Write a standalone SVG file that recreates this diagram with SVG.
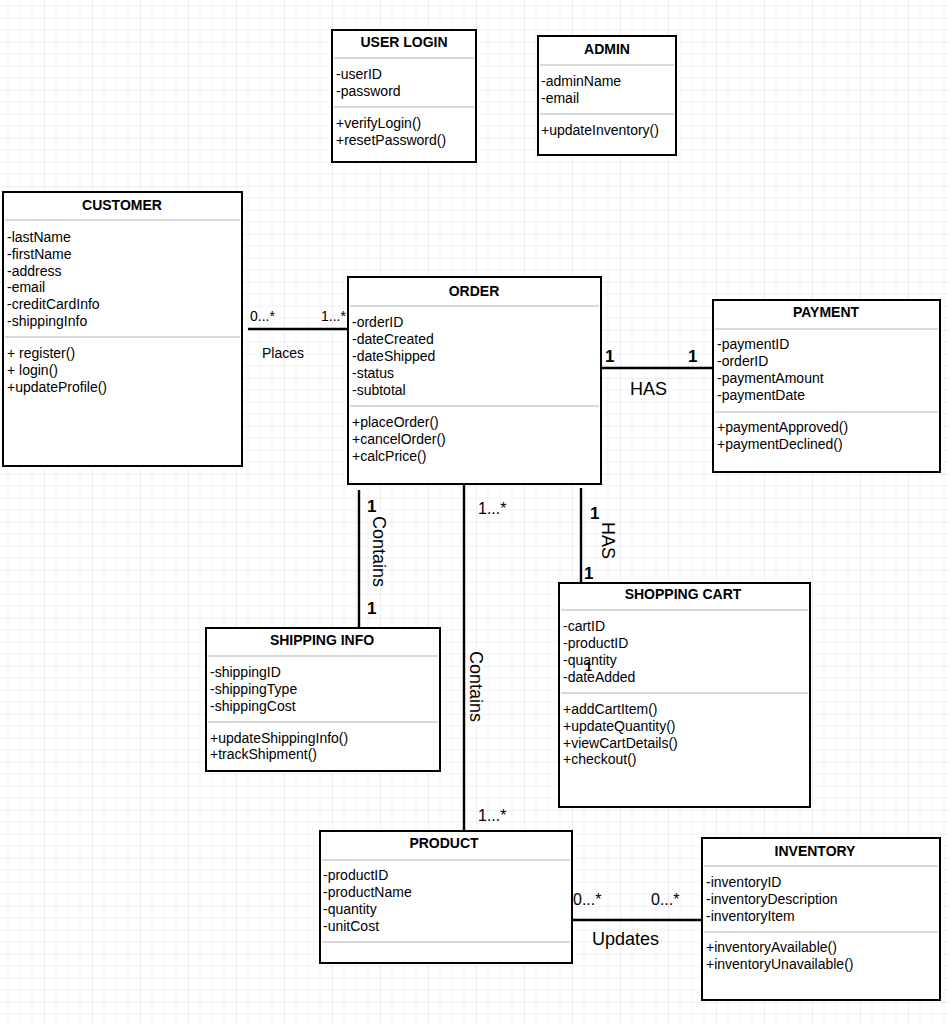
<svg xmlns="http://www.w3.org/2000/svg" width="950" height="1024" viewBox="0 0 950 1024">
<style>
text{font-family:"Liberation Sans",Arial,sans-serif;fill:#000}
.t{font-size:14px;font-weight:bold;text-anchor:middle}
.a{font-size:14px}
.box{fill:#fff;stroke:#000;stroke-width:2}
.sep{stroke:#b3b3b3;stroke-width:1.2}
.c{stroke:#000;stroke-width:2.4;fill:none}
.m{font-size:14px}
.m2{font-size:16px}
.b{font-size:17px;font-weight:bold}
.lbl{font-size:18px}
</style>
<defs>
<pattern id="grid" x="-4" y="-6" width="48" height="48" patternUnits="userSpaceOnUse">
<path d="M12 0V48M24 0V48M36 0V48M0 12H48M0 24H48M0 36H48" stroke="#f3f3f3" stroke-width="1" fill="none"/>
<path d="M0 0V48M0 0H48" stroke="#e4e4e4" stroke-width="1.2" fill="none"/>
</pattern>
</defs>
<rect width="950" height="1024" fill="#fff"/>
<rect width="950" height="1024" fill="url(#grid)"/>

<g id="connectors">
<line class="c" x1="248" y1="329" x2="348" y2="329"/>
<text class="m" x="250" y="321">0...*</text>
<text class="m" x="321" y="321">1...*</text>
<text class="a" x="262" y="358">Places</text>

<line class="c" x1="596" y1="368" x2="713" y2="368"/>
<text class="b" x="605" y="362">1</text>
<text class="b" x="688" y="362">1</text>
<text class="lbl" x="630" y="395">HAS</text>

<line class="c" x1="359" y1="490" x2="359" y2="628"/>
<text class="b" x="367" y="512">1</text>
<text class="lbl" transform="translate(373,516) rotate(90)">Contains</text>
<text class="b" x="367" y="614">1</text>

<line class="c" x1="464" y1="485" x2="464" y2="831"/>
<text class="m2" x="478" y="514">1...*</text>
<text class="lbl" transform="translate(470,651) rotate(90)">Contains</text>
<text class="m2" x="478" y="821">1...*</text>

<line class="c" x1="581" y1="488" x2="581" y2="587"/>
<text class="b" x="590" y="519">1</text>
<text class="lbl" transform="translate(602,522) rotate(90)">HAS</text>
<text class="b" x="584" y="579">1</text>

<line class="c" x1="572" y1="920" x2="702" y2="920"/>
<text class="m2" x="573" y="905">0...*</text>
<text class="m2" x="651" y="905">0...*</text>
<text class="lbl" x="592" y="945">Updates</text>
</g>

<g id="user-login">
<rect class="box" x="332" y="30" width="144" height="132"/>
<text class="t" x="404" y="47">USER LOGIN</text>
<line class="sep" x1="334" y1="58" x2="474" y2="58"/>
<text class="a" x="336" y="79">-userID</text>
<text class="a" x="336" y="96">-password</text>
<line class="sep" x1="334" y1="107" x2="474" y2="107"/>
<text class="a" x="336" y="128">+verifyLogin()</text>
<text class="a" x="336" y="145">+resetPassword()</text>
</g>

<g id="admin">
<rect class="box" x="538" y="36" width="138" height="119"/>
<text class="t" x="607" y="54">ADMIN</text>
<line class="sep" x1="540" y1="65" x2="674" y2="65"/>
<text class="a" x="541" y="86">-adminName</text>
<text class="a" x="541" y="103">-email</text>
<line class="sep" x1="540" y1="114" x2="674" y2="114"/>
<text class="a" x="541" y="135">+updateInventory()</text>
</g>

<g id="customer">
<rect class="box" x="3" y="192" width="239" height="274"/>
<text class="t" x="122" y="210">CUSTOMER</text>
<line class="sep" x1="5" y1="220" x2="240" y2="220"/>
<text class="a" x="7" y="242">-lastName</text>
<text class="a" x="7" y="259">-firstName</text>
<text class="a" x="7" y="276">-address</text>
<text class="a" x="7" y="292">-email</text>
<text class="a" x="7" y="309">-creditCardInfo</text>
<text class="a" x="7" y="326">-shippingInfo</text>
<line class="sep" x1="5" y1="337" x2="240" y2="337"/>
<text class="a" x="7" y="358">+ register()</text>
<text class="a" x="7" y="375">+ login()</text>
<text class="a" x="7" y="392">+updateProfile()</text>
</g>

<g id="order">
<rect class="box" x="348" y="277" width="253" height="207"/>
<text class="t" x="474" y="296">ORDER</text>
<line class="sep" x1="350" y1="306" x2="599" y2="306"/>
<text class="a" x="352" y="327">-orderID</text>
<text class="a" x="352" y="344">-dateCreated</text>
<text class="a" x="352" y="361">-dateShipped</text>
<text class="a" x="352" y="378">-status</text>
<text class="a" x="352" y="395">-subtotal</text>
<line class="sep" x1="350" y1="406" x2="599" y2="406"/>
<text class="a" x="352" y="427">+placeOrder()</text>
<text class="a" x="352" y="444">+cancelOrder()</text>
<text class="a" x="352" y="461">+calcPrice()</text>
</g>

<g id="payment">
<rect class="box" x="713" y="300" width="227" height="172"/>
<text class="t" x="826" y="317">PAYMENT</text>
<line class="sep" x1="715" y1="329" x2="938" y2="329"/>
<text class="a" x="717" y="349">-paymentID</text>
<text class="a" x="717" y="366">-orderID</text>
<text class="a" x="717" y="383">-paymentAmount</text>
<text class="a" x="717" y="400">-paymentDate</text>
<line class="sep" x1="715" y1="412" x2="938" y2="412"/>
<text class="a" x="717" y="432">+paymentApproved()</text>
<text class="a" x="717" y="449">+paymentDeclined()</text>
</g>

<g id="shipping-info">
<rect class="box" x="206" y="628" width="234" height="143"/>
<text class="t" x="322" y="645">SHIPPING INFO</text>
<line class="sep" x1="208" y1="656" x2="438" y2="656"/>
<text class="a" x="210" y="677">-shippingID</text>
<text class="a" x="210" y="694">-shippingType</text>
<text class="a" x="210" y="711">-shippingCost</text>
<line class="sep" x1="208" y1="722" x2="438" y2="722"/>
<text class="a" x="210" y="743">+updateShippingInfo()</text>
<text class="a" x="210" y="759">+trackShipment()</text>
</g>

<g id="shopping-cart">
<rect class="box" x="559" y="583" width="251" height="224"/>
<text class="t" x="683" y="599">SHOPPING CART</text>
<line class="sep" x1="561" y1="610" x2="808" y2="610"/>
<text class="a" x="563" y="631">-cartID</text>
<text class="a" x="563" y="648">-productID</text>
<text class="a" x="563" y="665">-quantity</text>
<text class="a" x="563" y="682">-dateAdded</text>
<line class="sep" x1="561" y1="693" x2="808" y2="693"/>
<text class="a" x="563" y="714">+addCartItem()</text>
<text class="a" x="563" y="731">+updateQuantity()</text>
<text class="a" x="563" y="748">+viewCartDetails()</text>
<text class="a" x="563" y="764">+checkout()</text>
<text class="b" x="585" y="671" style="font-size:13px">1</text>
</g>

<g id="product">
<rect class="box" x="320" y="831" width="252" height="132"/>
<text class="t" x="444" y="848">PRODUCT</text>
<line class="sep" x1="322" y1="860" x2="570" y2="860"/>
<text class="a" x="323" y="880">-productID</text>
<text class="a" x="323" y="897">-productName</text>
<text class="a" x="323" y="914">-quantity</text>
<text class="a" x="323" y="931">-unitCost</text>
<line class="sep" x1="322" y1="942" x2="570" y2="942"/>
</g>

<g id="inventory">
<rect class="box" x="702" y="838" width="238" height="162"/>
<text class="t" x="815" y="856">INVENTORY</text>
<line class="sep" x1="704" y1="866" x2="938" y2="866"/>
<text class="a" x="706" y="887">-inventoryID</text>
<text class="a" x="706" y="904">-inventoryDescription</text>
<text class="a" x="706" y="921">-inventoryItem</text>
<line class="sep" x1="704" y1="932" x2="938" y2="932"/>
<text class="a" x="706" y="952">+inventoryAvailable()</text>
<text class="a" x="706" y="969">+inventoryUnavailable()</text>
</g>
</svg>
